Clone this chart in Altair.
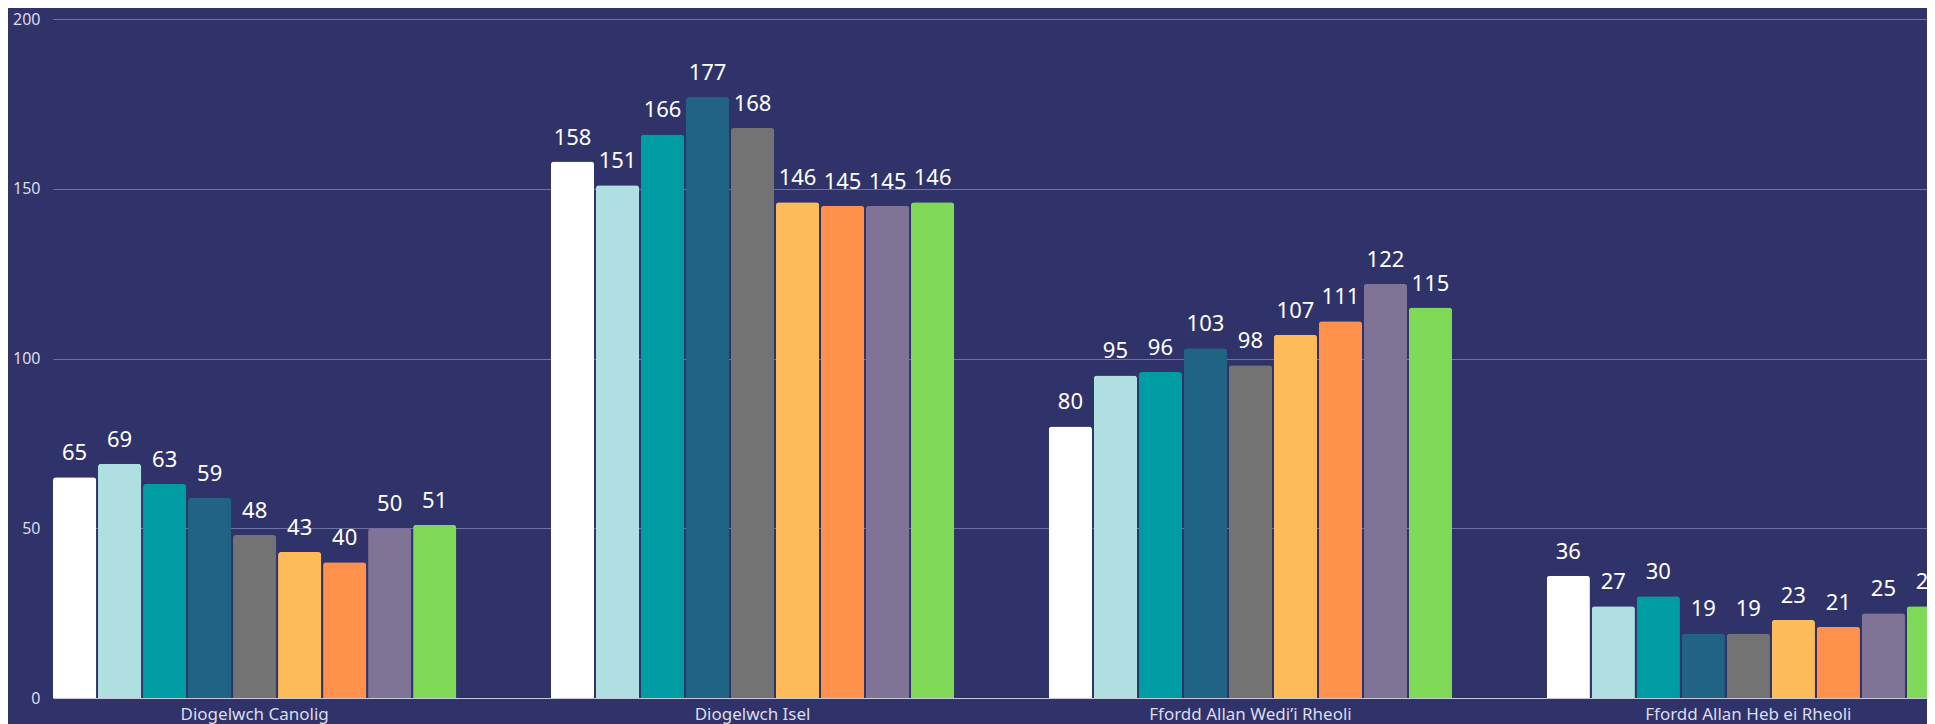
import altair as alt
import pandas as pd

groups = ["Diogelwch Canolig", "Diogelwch Isel", "Ffordd Allan Wedi’i Rheoli", "Ffordd Allan Heb ei Rheoli"]
series = ["Cyfres 1", "Cyfres 2", "Cyfres 3", "Cyfres 4", "Cyfres 5", "Cyfres 6", "Cyfres 7", "Cyfres 8", "Cyfres 9"]
colors = ["#ffffff", "#b0dfe1", "#009ca3", "#206385", "#737373", "#fdbb5a", "#ff914d", "#7f7396", "#7ed957"]

values_g1 = [65, 69, 63, 59, 48, 43, 40, 50, 51]
values_g2 = [158, 151, 166, 177, 168, 146, 145, 145, 146]
values_g3 = [80, 95, 96, 103, 98, 107, 111, 122, 115]
values_g4 = [36, 27, 30, 19, 19, 23, 21, 25, 27]

rows = []
for g, vals in zip(groups, [values_g1, values_g2, values_g3, values_g4]):
    for s, v in zip(series, vals):
        rows.append({"group": g, "series": s, "value": v})
df = pd.DataFrame(rows)

FONT = "Noto Sans"

x_enc = alt.X("group:N", sort=groups, title=None,
              scale=alt.Scale(range=[0, 1897], paddingInner=0.19, paddingOuter=0),
              axis=alt.Axis(labelAngle=0, ticks=False, domain=True, domainColor="#c9c9dd",
                            labelColor="#dcdcec", labelFontSize=17, labelFont=FONT,
                            labelPadding=8, labelLimit=500, grid=False))
xo_enc = alt.XOffset("series:N", sort=series,
                     scale=alt.Scale(paddingInner=0.04, paddingOuter=0))
y_enc = alt.Y("value:Q", title=None,
              scale=alt.Scale(domain=[0, 200], nice=False),
              axis=alt.Axis(values=[0, 50, 100, 150, 200], ticks=False, domain=False,
                            gridColor="#6e72a6", gridWidth=1, labelColor="#dcdcec",
                            labelFontSize=16, labelFont=FONT, labelPadding=13))
c_enc = alt.Color("series:N", sort=series, legend=None,
                  scale=alt.Scale(domain=series, range=colors))

base = alt.Chart(df)

bars = base.mark_bar(cornerRadiusTopLeft=3, cornerRadiusTopRight=3).encode(
    x=x_enc, xOffset=xo_enc, y=y_enc, color=c_enc
)

labels = base.mark_text(dy=-17, baseline="alphabetic", align="center",
                        color="#ffffff", fontSize=22, font=FONT).encode(
    x=x_enc, xOffset=xo_enc, y=y_enc, text=alt.Text("value:Q")
)

chart = alt.layer(bars, labels).properties(
    width=1874, height=679,
    autosize=alt.AutoSizeParams(type="none"),
    padding={"left": 45, "top": 11, "right": 0, "bottom": 26},
    background="#2f3369",
).configure_view(stroke=None)

chart.save("out.html", embed_options={"renderer": "svg", "actions": False})
